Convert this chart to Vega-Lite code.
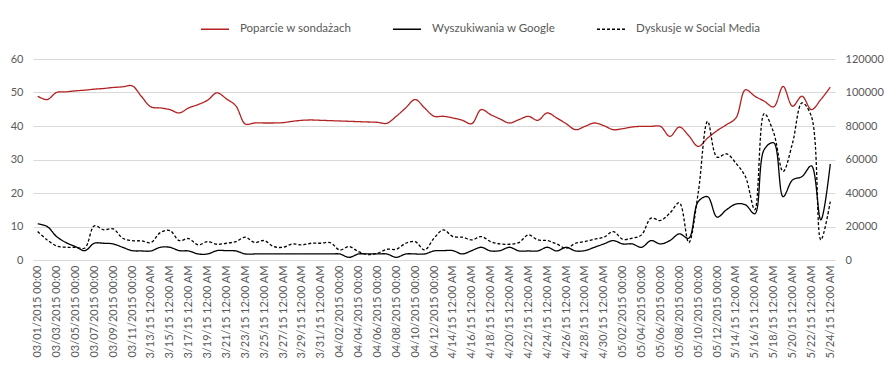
{
  "$schema": "https://vega.github.io/schema/vega-lite/v6.json",
  "width": 802,
  "height": 201,
  "autosize": {"type": "none"},
  "padding": {"left": 33, "top": 59, "right": 50, "bottom": 111},
  "background": "white",
  "config": {
    "view": {"stroke": null},
    "font": "Lato",
    "axis": {"labelFont": "Lato", "labelFontSize": 11, "labelColor": "#595959", "domain": false, "ticks": false, "title": null},
    "legend": {"labelFont": "Lato", "labelFontSize": 11.5, "labelColor": "#595959"}
  },
  "data": {"values": [
    {"d":"2015-03-01","p":48.9,"g":21600,"s":17000},
    {"d":"2015-03-02","p":47.9,"g":20000,"s":12000},
    {"d":"2015-03-03","p":50.0,"g":14000,"s":8400},
    {"d":"2015-03-04","p":50.2,"g":10400,"s":7600},
    {"d":"2015-03-05","p":50.5,"g":8000,"s":7600},
    {"d":"2015-03-06","p":50.7,"g":5600,"s":7200},
    {"d":"2015-03-07","p":51.0,"g":10000,"s":20400},
    {"d":"2015-03-08","p":51.2,"g":10000,"s":18000},
    {"d":"2015-03-09","p":51.5,"g":9600,"s":18600},
    {"d":"2015-03-10","p":51.7,"g":7600,"s":13000},
    {"d":"2015-03-11","p":52.0,"g":5600,"s":11600},
    {"d":"2015-03-12","p":48.8,"g":5400,"s":11400},
    {"d":"2015-03-13","p":45.7,"g":5400,"s":10400},
    {"d":"2015-03-14","p":45.4,"g":7600,"s":16400},
    {"d":"2015-03-15","p":44.9,"g":7600,"s":17600},
    {"d":"2015-03-16","p":43.9,"g":5600,"s":11600},
    {"d":"2015-03-17","p":45.4,"g":5400,"s":12800},
    {"d":"2015-03-18","p":46.4,"g":3600,"s":9000},
    {"d":"2015-03-19","p":47.7,"g":3600,"s":11000},
    {"d":"2015-03-20","p":49.9,"g":5600,"s":9400},
    {"d":"2015-03-21","p":48.1,"g":5600,"s":10000},
    {"d":"2015-03-22","p":46.0,"g":5400,"s":11000},
    {"d":"2015-03-23","p":40.6,"g":3600,"s":13600},
    {"d":"2015-03-24","p":40.9,"g":3600,"s":10400},
    {"d":"2015-03-25","p":40.9,"g":3600,"s":11600},
    {"d":"2015-03-26","p":40.9,"g":3600,"s":8000},
    {"d":"2015-03-27","p":41.0,"g":3600,"s":7600},
    {"d":"2015-03-28","p":41.4,"g":3600,"s":9600},
    {"d":"2015-03-29","p":41.7,"g":3600,"s":9000},
    {"d":"2015-03-30","p":41.8,"g":3600,"s":10000},
    {"d":"2015-03-31","p":41.7,"g":3600,"s":10000},
    {"d":"2015-04-01","p":41.6,"g":3600,"s":10400},
    {"d":"2015-04-02","p":41.5,"g":3600,"s":6000},
    {"d":"2015-04-03","p":41.4,"g":1600,"s":8000},
    {"d":"2015-04-04","p":41.3,"g":3600,"s":5000},
    {"d":"2015-04-05","p":41.2,"g":3600,"s":3200},
    {"d":"2015-04-06","p":41.1,"g":3600,"s":4000},
    {"d":"2015-04-07","p":40.8,"g":3600,"s":6400},
    {"d":"2015-04-08","p":42.9,"g":1600,"s":6400},
    {"d":"2015-04-09","p":45.4,"g":3600,"s":10000},
    {"d":"2015-04-10","p":47.9,"g":3600,"s":11000},
    {"d":"2015-04-11","p":45.4,"g":3600,"s":6000},
    {"d":"2015-04-12","p":42.9,"g":5400,"s":13000},
    {"d":"2015-04-13","p":42.9,"g":5600,"s":18000},
    {"d":"2015-04-14","p":42.4,"g":5600,"s":14000},
    {"d":"2015-04-15","p":41.7,"g":3600,"s":13600},
    {"d":"2015-04-16","p":40.7,"g":5600,"s":12000},
    {"d":"2015-04-17","p":44.9,"g":7600,"s":14000},
    {"d":"2015-04-18","p":43.4,"g":5400,"s":11000},
    {"d":"2015-04-19","p":42.1,"g":5600,"s":9600},
    {"d":"2015-04-20","p":40.9,"g":7600,"s":9400},
    {"d":"2015-04-21","p":41.9,"g":5400,"s":10400},
    {"d":"2015-04-22","p":42.9,"g":5400,"s":15000},
    {"d":"2015-04-23","p":41.7,"g":5400,"s":12000},
    {"d":"2015-04-24","p":43.9,"g":7600,"s":11600},
    {"d":"2015-04-25","p":42.4,"g":5400,"s":9600},
    {"d":"2015-04-26","p":40.7,"g":7600,"s":7000},
    {"d":"2015-04-27","p":38.9,"g":5400,"s":10000},
    {"d":"2015-04-28","p":39.9,"g":5600,"s":11000},
    {"d":"2015-04-29","p":40.9,"g":7600,"s":12400},
    {"d":"2015-04-30","p":40.1,"g":9600,"s":13600},
    {"d":"2015-05-01","p":38.9,"g":11600,"s":17000},
    {"d":"2015-05-02","p":39.2,"g":9600,"s":12400},
    {"d":"2015-05-03","p":39.7,"g":9600,"s":13000},
    {"d":"2015-05-04","p":39.9,"g":7600,"s":15000},
    {"d":"2015-05-05","p":39.9,"g":11600,"s":25000},
    {"d":"2015-05-06","p":39.9,"g":9600,"s":23600},
    {"d":"2015-05-07","p":36.9,"g":11600,"s":28000},
    {"d":"2015-05-08","p":39.7,"g":15600,"s":34200},
    {"d":"2015-05-09","p":37.1,"g":13000,"s":10400},
    {"d":"2015-05-10","p":33.9,"g":34800,"s":40000},
    {"d":"2015-05-11","p":36.4,"g":37800,"s":82800},
    {"d":"2015-05-12","p":38.6,"g":25600,"s":61400},
    {"d":"2015-05-13","p":40.4,"g":30000,"s":63400},
    {"d":"2015-05-14","p":42.4,"g":33400,"s":57800},
    {"d":"2015-05-15","p":50.8,"g":33000,"s":49800},
    {"d":"2015-05-16","p":48.9,"g":27600,"s":30000},
    {"d":"2015-05-17","p":47.4,"g":66000,"s":87400},
    {"d":"2015-05-18","p":45.7,"g":70000,"s":76000},
    {"d":"2015-05-19","p":51.8,"g":37800,"s":52800},
    {"d":"2015-05-20","p":45.9,"g":47800,"s":69800},
    {"d":"2015-05-21","p":48.9,"g":49800,"s":93800},
    {"d":"2015-05-22","p":44.9,"g":56200,"s":85800},
    {"d":"2015-05-23","p":47.9,"g":24000,"s":12000},
    {"d":"2015-05-24","p":51.6,"g":57400,"s":34800}
  ]},
  "transform": [{"fold": ["p", "g", "s"], "as": ["key", "value"]}],
  "encoding": {
    "x": {
      "field": "d", "type": "temporal",
      "scale": {"type": "utc", "domain": [
        {"year": 2015, "month": 2, "date": 28, "hours": 12, "utc": true},
        {"year": 2015, "month": 5, "date": 24, "hours": 12, "utc": true}
      ]},
      "axis": {
        "grid": false, "labelAngle": 270, "labelPadding": 5, "labelLimit": 200,
        "labelOverlap": false,
        "values": [1425168000000,1425340800000,1425513600000,1425686400000,1425859200000,1426032000000,1426204800000,1426377600000,1426550400000,1426723200000,1426896000000,1427068800000,1427241600000,1427414400000,1427587200000,1427760000000,1427932800000,1428105600000,1428278400000,1428451200000,1428624000000,1428796800000,1428969600000,1429142400000,1429315200000,1429488000000,1429660800000,1429833600000,1430006400000,1430179200000,1430352000000,1430524800000,1430697600000,1430870400000,1431043200000,1431216000000,1431388800000,1431561600000,1431734400000,1431907200000,1432080000000,1432252800000,1432425600000],
        "labelExpr": "utcdate(datum.value) <= 12 ? utcFormat(datum.value, '%m/%d/%Y 00:00') : utcFormat(datum.value, '%-m/%d/%y 12:00 AM')"
      }
    },
    "color": {
      "field": "key", "type": "nominal",
      "scale": {"domain": ["p", "g", "s"], "range": ["#B22222", "#000000", "#000000"]},
      "legend": {
        "title": null, "orient": "none", "legendX": 167, "legendY": -45,
        "direction": "horizontal", "symbolType": "stroke", "symbolSize": 784,
        "symbolStrokeWidth": 1.3, "labelOffset": 10, "columnPadding": 38,
        "labelExpr": "datum.label == 'p' ? 'Poparcie w sondażach' : datum.label == 'g' ? 'Wyszukiwania w Google' : 'Dyskusje w Social Media'"
      }
    },
    "strokeDash": {
      "field": "key", "type": "nominal",
      "scale": {"domain": ["p", "g", "s"], "range": [[1, 0], [1, 0], [3, 2]]},
      "legend": {
        "title": null, "orient": "none", "legendX": 167, "legendY": -45,
        "direction": "horizontal", "symbolType": "stroke", "symbolSize": 784,
        "symbolStrokeWidth": 1.3, "labelOffset": 10, "columnPadding": 38,
        "labelExpr": "datum.label == 'p' ? 'Poparcie w sondażach' : datum.label == 'g' ? 'Wyszukiwania w Google' : 'Dyskusje w Social Media'"
      }
    }
  },
  "layer": [
    {
      "transform": [{"filter": {"field": "key", "equal": "p"}}],
      "mark": {"type": "line", "interpolate": "catmull-rom", "strokeWidth": 1.3},
      "encoding": {
        "y": {
          "field": "value", "type": "quantitative",
          "scale": {"domain": [0, 60], "nice": false, "zero": true},
          "axis": {"values": [0, 10, 20, 30, 40, 50, 60], "grid": true, "gridColor": "#D9D9D9", "labelPadding": 10, "orient": "left"}
        }
      }
    },
    {
      "transform": [{"filter": {"field": "key", "oneOf": ["g", "s"]}}],
      "mark": {"type": "line", "interpolate": "catmull-rom", "strokeWidth": 1.3},
      "encoding": {
        "y": {
          "field": "value", "type": "quantitative",
          "scale": {"domain": [0, 120000], "nice": false},
          "axis": {"values": [0, 20000, 40000, 60000, 80000, 100000, 120000], "format": "d", "grid": false, "labelPadding": 10, "orient": "right"}
        }
      }
    }
  ],
  "resolve": {"scale": {"y": "independent"}}
}
